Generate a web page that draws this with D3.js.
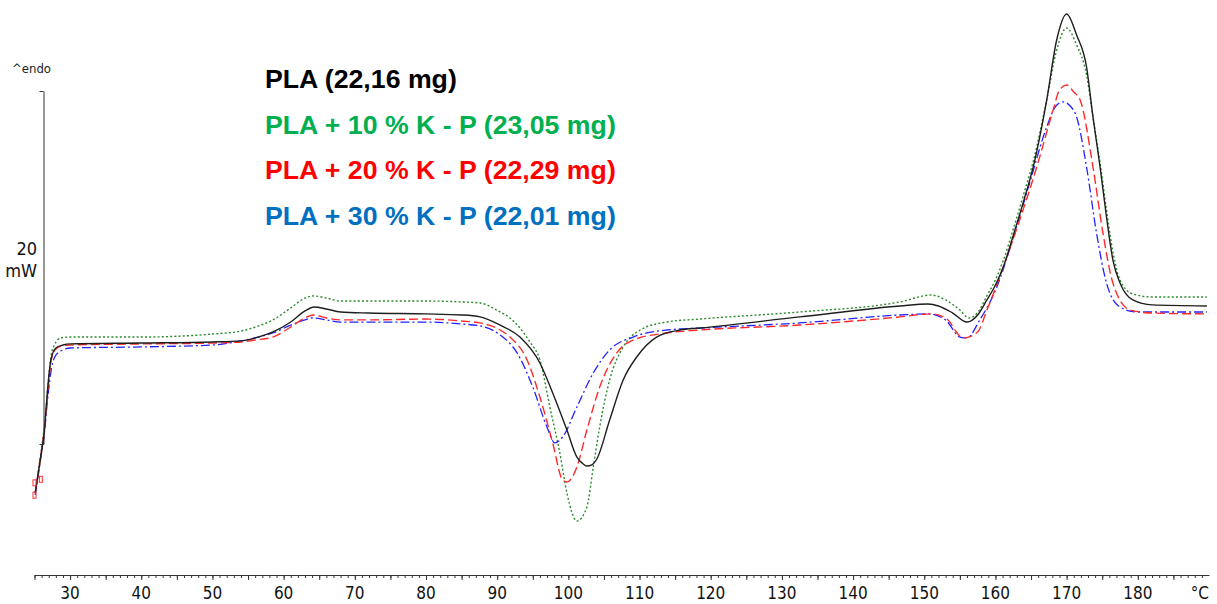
<!DOCTYPE html>
<html>
<head>
<meta charset="utf-8">
<script src="https://cdn.jsdelivr.net/npm/d3@7"></script>
<style>
  body { margin: 0; background: #fff; }
  .legend { font-family: "Liberation Sans", Arial, sans-serif; font-weight: bold; font-size: 26.7px; }
  .axisLbl { font-family: "DejaVu Sans Condensed", "DejaVu Sans", sans-serif; font-size: 17px; fill: #111; }
</style>
</head>
<body>
<div id="chart"></div>
<script>
// DSC curves, temperature (°C) and heat flow (mW)
var tBlack = [25.1, 25.8, 26.4, 26.8, 27.3, 28.0, 29.0, 30, 40, 50, 54, 56, 58.5, 61, 63, 64.3, 66, 68, 72, 80, 85, 87.6, 90.4, 93.2, 96.0, 97.8, 99.8, 101.2, 102.0, 102.6, 103.3, 104.0, 105.8, 107.7, 109.6, 112.4, 115.7, 118.5, 132.5, 146.6, 150.5, 152, 154, 156.0, 157.5, 158.8, 160.0, 161.1, 162.6, 164.0, 165.3, 167.2, 168.6, 170.0, 171.4, 172.8, 173.7, 174.7, 175.6, 176.5, 177.5, 179.3, 182, 189.7];
var vBlack = [-2.78, -0.91, 0.79, 2.89, 4.76, 5.44, 5.61, 5.67, 5.72, 5.78, 5.84, 6.01, 6.35, 6.91, 7.54, 7.76, 7.65, 7.48, 7.42, 7.37, 7.31, 7.20, 6.74, 6.06, 4.59, 2.89, 0.79, -0.74, -1.10, -1.25, -1.18, -0.85, 1.36, 3.63, 4.93, 6.06, 6.46, 6.57, 7.20, 7.82, 7.93, 7.82, 7.42, 6.91, 7.31, 8.16, 9.01, 10.03, 11.95, 13.82, 15.69, 19.49, 22.89, 24.36, 23.17, 21.36, 18.53, 15.69, 12.86, 10.42, 9.12, 8.16, 7.88, 7.82];

var tGreen = [25.1, 25.8, 26.4, 26.9, 27.3, 27.8, 28.7, 30, 40, 50, 54, 56.5, 58.5, 61, 63, 64.2, 66, 68, 72, 80, 85, 87.6, 90.4, 91.8, 93.2, 94.6, 96.0, 97.4, 98.8, 99.8, 101.2, 102.6, 103.5, 104.4, 105.8, 107.7, 110.1, 113.8, 118.5, 132.5, 146.6, 151, 153, 155, 156.3, 157.5, 158.8, 160, 161.1, 162.6, 164, 165.3, 167.2, 168.6, 170.0, 171.4, 172.8, 173.7, 174.7, 175.6, 176.5, 177.5, 179.3, 182, 189.7];
var vGreen = [-2.78, -0.79, 1.08, 3.34, 4.93, 5.61, 6.01, 6.06, 6.06, 6.23, 6.40, 6.69, 7.03, 7.71, 8.27, 8.39, 8.27, 8.10, 8.10, 8.10, 8.05, 7.99, 7.48, 7.14, 6.57, 5.78, 4.76, 2.10, -0.51, -2.78, -4.36, -3.57, -1.30, 0.96, 3.63, 5.50, 6.46, 6.91, 7.08, 7.48, 8.05, 8.44, 8.16, 7.59, 7.14, 7.45, 8.40, 9.30, 10.40, 12.30, 14.20, 16.00, 19.49, 22.32, 23.57, 22.61, 20.91, 18.53, 15.92, 13.26, 10.88, 9.29, 8.50, 8.33, 8.33];

var tRed = [25.1, 25.8, 26.4, 26.9, 27.3, 27.9, 28.8, 30, 40, 50, 54, 56, 58.5, 61, 63, 64.2, 66, 68, 72, 80, 85, 87.6, 90.4, 91.8, 94.2, 96.0, 97.8, 99.2, 99.8, 101.2, 102.6, 104.4, 106.8, 109.1, 113.8, 118.5, 132.5, 146.6, 151, 153, 155.5, 157.5, 158.8, 161.1, 163.4, 165.8, 168.1, 169.0, 170.0, 171.0, 171.9, 173.7, 175.1, 176.5, 178.9, 182, 189.7];
var vRed = [-2.78, -0.91, 0.91, 3.06, 4.65, 5.33, 5.55, 5.61, 5.67, 5.72, 5.78, 5.89, 6.06, 6.63, 7.14, 7.31, 7.14, 7.03, 7.03, 7.08, 6.97, 6.86, 6.46, 6.06, 4.76, 2.66, 0.06, -2.04, -2.15, -1.30, 0.79, 3.23, 5.16, 5.89, 6.29, 6.46, 6.74, 7.20, 7.37, 7.14, 6.01, 6.35, 7.59, 10.03, 12.69, 15.69, 18.92, 20.06, 20.34, 19.94, 19.49, 15.69, 11.95, 9.12, 7.59, 7.42, 7.37];

var tBlue = [25.1, 25.8, 26.4, 26.9, 27.4, 28.0, 29, 30, 40, 50, 54, 56.5, 58.5, 61, 63, 64, 66, 68, 72, 80, 85, 87.6, 90.4, 92.8, 95.0, 97.0, 98.1, 99.2, 101.2, 103.5, 105.8, 109.1, 113.8, 118.5, 132.5, 146.6, 150.5, 153, 155, 156, 157.8, 160.2, 162.4, 164.8, 167.2, 168.5, 169.5, 170.5, 171.4, 172.8, 174.2, 175.6, 177.5, 179.9, 189.7];
var vBlue = [-2.89, -1.02, 0.68, 2.78, 4.31, 5.04, 5.33, 5.44, 5.50, 5.61, 5.84, 6.06, 6.29, 6.74, 7.03, 7.14, 7.03, 6.91, 6.91, 6.91, 6.80, 6.69, 6.18, 5.16, 3.23, 0.96, 0.06, 0.40, 2.10, 4.02, 5.33, 6.06, 6.46, 6.57, 6.86, 7.31, 7.37, 7.03, 6.06, 6.01, 7.03, 8.90, 11.56, 14.79, 17.96, 19.15, 19.38, 19.15, 18.53, 15.69, 11.95, 9.12, 7.76, 7.48, 7.48];

var legendLabels = ["PLA (22,16 mg)", "PLA + 10 % K - P (23,05 mg)", "PLA + 20 % K - P (22,29 mg)", "PLA + 30 % K - P (22,01 mg)"];
var legendColors = ["#000000", "#00b050", "#ff0000", "#0070c0"];

var xTicks = d3.range(30, 190, 10);

var svgWidth = 1217;
var svgHeight = 604;

var svg = d3.select("#chart")
  .append("svg")
  .attr("width", svgWidth)
  .attr("height", svgHeight);

// scales: 20 mW scale bar between the two y-axis ticks
var x = d3.scaleLinear().domain([25, 190]).range([34.5, 1209]);
var y = d3.scaleLinear().domain([0, 20]).range([444, 91]);

// x axis - minor ticks every degree, bigger every 5
svg.append("g")
  .attr("transform", "translate(0,575)")
  .call(d3.axisBottom(x).tickValues(d3.range(25, 190, 1)).tickSize(3).tickSizeOuter(0).tickFormat(""))
  .call(g => g.select(".domain").attr("stroke", "#333"))
  .call(g => g.selectAll(".tick line").attr("stroke", "#333"));

svg.append("g")
  .attr("transform", "translate(0,575)")
  .call(d3.axisBottom(x).tickValues(d3.range(25, 190, 5)).tickSize(5).tickSizeOuter(0).tickFormat(""))
  .call(g => g.select(".domain").remove())
  .call(g => g.selectAll(".tick line").attr("stroke", "#333"));

svg.selectAll(".xlab")
  .data(xTicks)
  .enter()
  .append("text")
  .attr("class", "axisLbl")
  .attr("x", d => x(d))
  .attr("y", 599)
  .attr("text-anchor", "middle")
  .text(d => d);

svg.append("text")
  .attr("class", "axisLbl")
  .attr("x", 1209)
  .attr("y", 599)
  .attr("text-anchor", "end")
  .text("°C");

// y axis scale bar
svg.append("g")
  .attr("transform", "translate(43.5,0)")
  .call(d3.axisLeft(y).tickValues([0, 20]).tickSize(4).tickSizeOuter(0).tickFormat(""))
  .call(g => g.select(".domain").attr("stroke", "#333"))
  .call(g => g.selectAll(".tick line").attr("stroke", "#333"));

svg.append("text")
  .attr("class", "axisLbl")
  .attr("x", 37).attr("y", 255)
  .attr("text-anchor", "end")
  .style("font-size", "18px")
  .text("20");
svg.append("text")
  .attr("class", "axisLbl")
  .attr("x", 37).attr("y", 277)
  .attr("text-anchor", "end")
  .style("font-size", "18px")
  .text("mW");

svg.append("text")
  .attr("x", 12).attr("y", 73)
  .style("font-family", "DejaVu Sans Condensed, DejaVu Sans, sans-serif")
  .style("font-size", "13px")
  .style("fill", "#222")
  .text("^endo");

// curves
var line = d3.line()
  .x(d => x(d[0]))
  .y(d => y(d[1]))
  .curve(d3.curveMonotoneX);

var series = [
  { t: tGreen, v: vGreen, color: "#2a8a2a", dash: "2,2.2", w: 1.4 },
  { t: tBlue, v: vBlue, color: "#2222ff", dash: "9,3,2,3", w: 1.3 },
  { t: tRed, v: vRed, color: "#ff2a2a", dash: "9,4", w: 1.4 },
  { t: tBlack, v: vBlack, color: "#1e1e1e", dash: null, w: 1.4 }
];

series.forEach(function (s) {
  svg.append("path")
    .datum(d3.zip(s.t, s.v))
    .attr("fill", "none")
    .attr("stroke", s.color)
    .attr("stroke-width", s.w)
    .attr("stroke-dasharray", s.dash)
    .attr("d", line);
});

// little red event markers at the start of the run
[[25.0, -2.2], [25.9, -2.0], [25.0, -2.9]].forEach(function (m) {
  svg.append("rect")
    .attr("x", x(m[0]) - 1.5)
    .attr("y", y(m[1]) - 3)
    .attr("width", 3)
    .attr("height", 6)
    .attr("fill", "none")
    .attr("stroke", "#ff3030")
    .attr("stroke-width", 1);
});

// legend
svg.selectAll(".legend")
  .data(legendLabels)
  .enter()
  .append("text")
  .attr("class", "legend")
  .attr("x", 265)
  .attr("y", (d, i) => 88 + i * 45.7)
  .attr("fill", (d, i) => legendColors[i])
  .text(d => d);
</script>
</body>
</html>
